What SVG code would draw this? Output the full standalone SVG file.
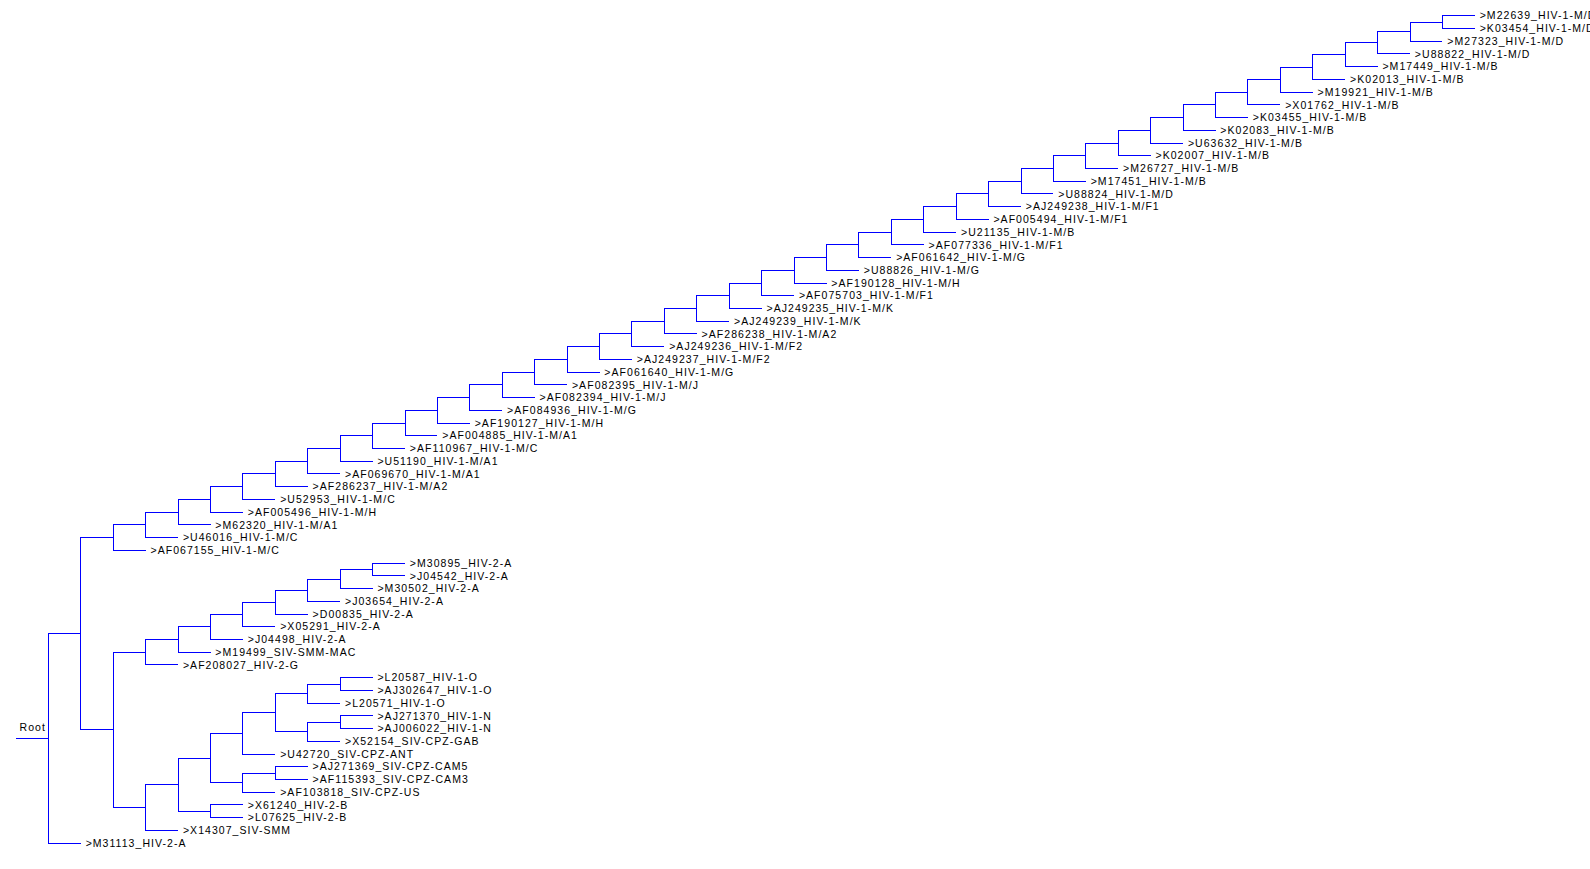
<svg xmlns="http://www.w3.org/2000/svg" width="1590" height="869" viewBox="0 0 1590 869">
  <style>
    .br { fill: none; stroke: #0000ff; stroke-width: 1; shape-rendering: crispEdges; }
    .lb { font-family: "Liberation Sans", Arial, sans-serif; font-size: 10.5px; letter-spacing: 1.05px; fill: #000; }
  </style>
  <rect width="1590" height="869" fill="#fff"/>

  <!-- branches: one bracket per internal node -->
  <g id="connectors" class="br">
    <path d="M16 738.46 H48.42"/>
    <path d="M80.84 633.77 H48.42 V843.15 H80.84"/>
    <path d="M113.26 537.63 H80.84 V729.9 H113.26"/>
    <!-- HIV-1 group M ladder -->
    <path d="M1474.9 15.7 H1442.48 V28.43 H1474.9"/>
    <path d="M1442.48 22.07 H1410.06 V41.16 H1442.48"/>
    <path d="M1410.06 31.61 H1377.64 V53.89 H1410.06"/>
    <path d="M1377.64 42.75 H1345.22 V66.62 H1377.64"/>
    <path d="M1345.22 54.69 H1312.8 V79.35 H1345.22"/>
    <path d="M1312.8 67.02 H1280.38 V92.08 H1312.8"/>
    <path d="M1280.38 79.55 H1247.96 V104.81 H1280.38"/>
    <path d="M1247.96 92.18 H1215.54 V117.54 H1247.96"/>
    <path d="M1215.54 104.86 H1183.12 V130.27 H1215.54"/>
    <path d="M1183.12 117.57 H1150.7 V143 H1183.12"/>
    <path d="M1150.7 130.28 H1118.28 V155.73 H1150.7"/>
    <path d="M1118.28 143.01 H1085.86 V168.46 H1118.28"/>
    <path d="M1085.86 155.73 H1053.44 V181.19 H1085.86"/>
    <path d="M1053.44 168.46 H1021.02 V193.92 H1053.44"/>
    <path d="M1021.02 181.19 H988.6 V206.65 H1021.02"/>
    <path d="M988.6 193.92 H956.18 V219.38 H988.6"/>
    <path d="M956.18 206.65 H923.76 V232.11 H956.18"/>
    <path d="M923.76 219.38 H891.34 V244.84 H923.76"/>
    <path d="M891.34 232.11 H858.92 V257.57 H891.34"/>
    <path d="M858.92 244.84 H826.5 V270.3 H858.92"/>
    <path d="M826.5 257.57 H794.08 V283.03 H826.5"/>
    <path d="M794.08 270.3 H761.66 V295.76 H794.08"/>
    <path d="M761.66 283.03 H729.24 V308.49 H761.66"/>
    <path d="M729.24 295.76 H696.82 V321.22 H729.24"/>
    <path d="M696.82 308.49 H664.4 V333.95 H696.82"/>
    <path d="M664.4 321.22 H631.98 V346.68 H664.4"/>
    <path d="M631.98 333.95 H599.56 V359.41 H631.98"/>
    <path d="M599.56 346.68 H567.14 V372.14 H599.56"/>
    <path d="M567.14 359.41 H534.72 V384.87 H567.14"/>
    <path d="M534.72 372.14 H502.3 V397.6 H534.72"/>
    <path d="M502.3 384.87 H469.88 V410.33 H502.3"/>
    <path d="M469.88 397.6 H437.46 V423.06 H469.88"/>
    <path d="M437.46 410.33 H405.04 V435.79 H437.46"/>
    <path d="M405.04 423.06 H372.62 V448.52 H405.04"/>
    <path d="M372.62 435.79 H340.2 V461.25 H372.62"/>
    <path d="M340.2 448.52 H307.78 V473.98 H340.2"/>
    <path d="M307.78 461.25 H275.36 V486.71 H307.78"/>
    <path d="M275.36 473.98 H242.94 V499.44 H275.36"/>
    <path d="M242.94 486.71 H210.52 V512.17 H242.94"/>
    <path d="M210.52 499.44 H178.1 V524.9 H210.52"/>
    <path d="M178.1 512.17 H145.68 V537.63 H178.1"/>
    <path d="M145.68 524.9 H113.26 V550.36 H145.68"/>
    <!-- HIV-2 / SIV / HIV-1 O,N -->
    <path d="M145.68 652.25 H113.26 V807.55 H145.68"/>
    <path d="M178.1 639.57 H145.68 V664.93 H178.1"/>
    <path d="M210.52 626.94 H178.1 V652.2 H210.52"/>
    <path d="M242.94 614.41 H210.52 V639.47 H242.94"/>
    <path d="M275.36 602.08 H242.94 V626.74 H275.36"/>
    <path d="M307.78 590.14 H275.36 V614.01 H307.78"/>
    <path d="M340.2 579 H307.78 V601.28 H340.2"/>
    <path d="M372.62 569.46 H340.2 V588.55 H372.62"/>
    <path d="M405.04 563.09 H372.62 V575.82 H405.04"/>
    <path d="M178.1 784.67 H145.68 V830.42 H178.1"/>
    <path d="M210.52 758.02 H178.1 V811.33 H210.52"/>
    <path d="M242.94 804.96 H210.52 V817.69 H242.94"/>
    <path d="M242.94 733.35 H210.52 V782.68 H242.94"/>
    <path d="M275.36 773.13 H242.94 V792.23 H275.36"/>
    <path d="M307.78 766.77 H275.36 V779.5 H307.78"/>
    <path d="M275.36 712.67 H242.94 V754.04 H275.36"/>
    <path d="M307.78 693.57 H275.36 V731.76 H307.78"/>
    <path d="M340.2 684.03 H307.78 V703.12 H340.2"/>
    <path d="M372.62 677.66 H340.2 V690.39 H372.62"/>
    <path d="M340.2 722.22 H307.78 V741.31 H340.2"/>
    <path d="M372.62 715.85 H340.2 V728.58 H372.62"/>
  </g>

  <g id="root"><text class="lb" x="19.5" y="731">Root</text></g>

  <!-- leaf labels -->
  <g id="M22639"><text class="lb" x="1479.7" y="19.4">&gt;M22639_HIV-1-M/D</text></g>
  <g id="K03454"><text class="lb" x="1479.7" y="32.13">&gt;K03454_HIV-1-M/D</text></g>
  <g id="M27323"><text class="lb" x="1447.28" y="44.86">&gt;M27323_HIV-1-M/D</text></g>
  <g id="U88822"><text class="lb" x="1414.86" y="57.59">&gt;U88822_HIV-1-M/D</text></g>
  <g id="M17449"><text class="lb" x="1382.44" y="70.32">&gt;M17449_HIV-1-M/B</text></g>
  <g id="K02013"><text class="lb" x="1350.02" y="83.05">&gt;K02013_HIV-1-M/B</text></g>
  <g id="M19921"><text class="lb" x="1317.6" y="95.78">&gt;M19921_HIV-1-M/B</text></g>
  <g id="X01762"><text class="lb" x="1285.18" y="108.51">&gt;X01762_HIV-1-M/B</text></g>
  <g id="K03455"><text class="lb" x="1252.76" y="121.24">&gt;K03455_HIV-1-M/B</text></g>
  <g id="K02083"><text class="lb" x="1220.34" y="133.97">&gt;K02083_HIV-1-M/B</text></g>
  <g id="U63632"><text class="lb" x="1187.92" y="146.7">&gt;U63632_HIV-1-M/B</text></g>
  <g id="K02007"><text class="lb" x="1155.5" y="159.43">&gt;K02007_HIV-1-M/B</text></g>
  <g id="M26727"><text class="lb" x="1123.08" y="172.16">&gt;M26727_HIV-1-M/B</text></g>
  <g id="M17451"><text class="lb" x="1090.66" y="184.89">&gt;M17451_HIV-1-M/B</text></g>
  <g id="U88824"><text class="lb" x="1058.24" y="197.62">&gt;U88824_HIV-1-M/D</text></g>
  <g id="AJ249238"><text class="lb" x="1025.82" y="210.35">&gt;AJ249238_HIV-1-M/F1</text></g>
  <g id="AF005494"><text class="lb" x="993.4" y="223.08">&gt;AF005494_HIV-1-M/F1</text></g>
  <g id="U21135"><text class="lb" x="960.98" y="235.81">&gt;U21135_HIV-1-M/B</text></g>
  <g id="AF077336"><text class="lb" x="928.56" y="248.54">&gt;AF077336_HIV-1-M/F1</text></g>
  <g id="AF061642"><text class="lb" x="896.14" y="261.27">&gt;AF061642_HIV-1-M/G</text></g>
  <g id="U88826"><text class="lb" x="863.72" y="274">&gt;U88826_HIV-1-M/G</text></g>
  <g id="AF190128"><text class="lb" x="831.3" y="286.73">&gt;AF190128_HIV-1-M/H</text></g>
  <g id="AF075703"><text class="lb" x="798.88" y="299.46">&gt;AF075703_HIV-1-M/F1</text></g>
  <g id="AJ249235"><text class="lb" x="766.46" y="312.19">&gt;AJ249235_HIV-1-M/K</text></g>
  <g id="AJ249239"><text class="lb" x="734.04" y="324.92">&gt;AJ249239_HIV-1-M/K</text></g>
  <g id="AF286238"><text class="lb" x="701.62" y="337.65">&gt;AF286238_HIV-1-M/A2</text></g>
  <g id="AJ249236"><text class="lb" x="669.2" y="350.38">&gt;AJ249236_HIV-1-M/F2</text></g>
  <g id="AJ249237"><text class="lb" x="636.78" y="363.11">&gt;AJ249237_HIV-1-M/F2</text></g>
  <g id="AF061640"><text class="lb" x="604.36" y="375.84">&gt;AF061640_HIV-1-M/G</text></g>
  <g id="AF082395"><text class="lb" x="571.94" y="388.57">&gt;AF082395_HIV-1-M/J</text></g>
  <g id="AF082394"><text class="lb" x="539.52" y="401.3">&gt;AF082394_HIV-1-M/J</text></g>
  <g id="AF084936"><text class="lb" x="507.1" y="414.03">&gt;AF084936_HIV-1-M/G</text></g>
  <g id="AF190127"><text class="lb" x="474.68" y="426.76">&gt;AF190127_HIV-1-M/H</text></g>
  <g id="AF004885"><text class="lb" x="442.26" y="439.49">&gt;AF004885_HIV-1-M/A1</text></g>
  <g id="AF110967"><text class="lb" x="409.84" y="452.22">&gt;AF110967_HIV-1-M/C</text></g>
  <g id="U51190"><text class="lb" x="377.42" y="464.95">&gt;U51190_HIV-1-M/A1</text></g>
  <g id="AF069670"><text class="lb" x="345" y="477.68">&gt;AF069670_HIV-1-M/A1</text></g>
  <g id="AF286237"><text class="lb" x="312.58" y="490.41">&gt;AF286237_HIV-1-M/A2</text></g>
  <g id="U52953"><text class="lb" x="280.16" y="503.14">&gt;U52953_HIV-1-M/C</text></g>
  <g id="AF005496"><text class="lb" x="247.74" y="515.87">&gt;AF005496_HIV-1-M/H</text></g>
  <g id="M62320"><text class="lb" x="215.32" y="528.6">&gt;M62320_HIV-1-M/A1</text></g>
  <g id="U46016"><text class="lb" x="182.9" y="541.33">&gt;U46016_HIV-1-M/C</text></g>
  <g id="AF067155"><text class="lb" x="150.48" y="554.06">&gt;AF067155_HIV-1-M/C</text></g>
  <g id="M30895"><text class="lb" x="409.84" y="566.79">&gt;M30895_HIV-2-A</text></g>
  <g id="J04542"><text class="lb" x="409.84" y="579.52">&gt;J04542_HIV-2-A</text></g>
  <g id="M30502"><text class="lb" x="377.42" y="592.25">&gt;M30502_HIV-2-A</text></g>
  <g id="J03654"><text class="lb" x="345" y="604.98">&gt;J03654_HIV-2-A</text></g>
  <g id="D00835"><text class="lb" x="312.58" y="617.71">&gt;D00835_HIV-2-A</text></g>
  <g id="X05291"><text class="lb" x="280.16" y="630.44">&gt;X05291_HIV-2-A</text></g>
  <g id="J04498"><text class="lb" x="247.74" y="643.17">&gt;J04498_HIV-2-A</text></g>
  <g id="M19499"><text class="lb" x="215.32" y="655.9">&gt;M19499_SIV-SMM-MAC</text></g>
  <g id="AF208027"><text class="lb" x="182.9" y="668.63">&gt;AF208027_HIV-2-G</text></g>
  <g id="L20587"><text class="lb" x="377.42" y="681.36">&gt;L20587_HIV-1-O</text></g>
  <g id="AJ302647"><text class="lb" x="377.42" y="694.09">&gt;AJ302647_HIV-1-O</text></g>
  <g id="L20571"><text class="lb" x="345" y="706.82">&gt;L20571_HIV-1-O</text></g>
  <g id="AJ271370"><text class="lb" x="377.42" y="719.55">&gt;AJ271370_HIV-1-N</text></g>
  <g id="AJ006022"><text class="lb" x="377.42" y="732.28">&gt;AJ006022_HIV-1-N</text></g>
  <g id="X52154"><text class="lb" x="345" y="745.01">&gt;X52154_SIV-CPZ-GAB</text></g>
  <g id="U42720"><text class="lb" x="280.16" y="757.74">&gt;U42720_SIV-CPZ-ANT</text></g>
  <g id="AJ271369"><text class="lb" x="312.58" y="770.47">&gt;AJ271369_SIV-CPZ-CAM5</text></g>
  <g id="AF115393"><text class="lb" x="312.58" y="783.2">&gt;AF115393_SIV-CPZ-CAM3</text></g>
  <g id="AF103818"><text class="lb" x="280.16" y="795.93">&gt;AF103818_SIV-CPZ-US</text></g>
  <g id="X61240"><text class="lb" x="247.74" y="808.66">&gt;X61240_HIV-2-B</text></g>
  <g id="L07625"><text class="lb" x="247.74" y="821.39">&gt;L07625_HIV-2-B</text></g>
  <g id="X14307"><text class="lb" x="182.9" y="834.12">&gt;X14307_SIV-SMM</text></g>
  <g id="M31113"><text class="lb" x="85.64" y="846.85">&gt;M31113_HIV-2-A</text></g>
</svg>
